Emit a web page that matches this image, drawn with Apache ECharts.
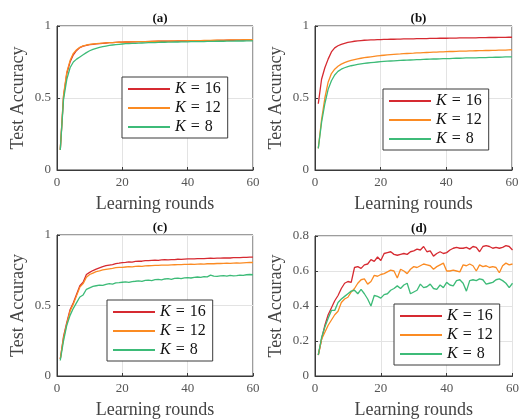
<!DOCTYPE html>
<html>
<head>
<meta charset="utf-8">
<script src="https://cdn.jsdelivr.net/npm/echarts@6/dist/echarts.min.js"></script>
<style>html,body{margin:0;padding:0;background:#fff}#c{width:522px;height:420px}</style>
</head>
<body>
<div id="c"></div>
<script>
const rounds = [1,2,3,4,5,6,7,8,9,10,11,12,13,14,15,16,17,18,19,20,21,22,23,24,25,26,27,28,29,30,31,32,33,34,35,36,37,38,39,40,41,42,43,44,45,46,47,48,49,50,51,52,53,54,55,56,57,58,59,60];
const seriesNames = ['K = 16','K = 12','K = 8'];
const panelTitles = ['(a)','(b)','(c)','(d)'];
const yMaxes = [1,1,1,0.8];
const yIntervals = [0.5,0.5,0.5,0.2];

const aK16 = [0.14,0.51,0.67,0.75,0.80,0.83,0.85,0.86,0.866,0.87,0.873,0.876,0.878,0.88,0.882,0.884,0.885,0.886,0.887,0.888,0.889,0.889,0.89,0.89,0.891,0.891,0.892,0.892,0.893,0.893,0.894,0.894,0.894,0.895,0.895,0.895,0.896,0.896,0.896,0.897,0.897,0.897,0.898,0.898,0.898,0.899,0.899,0.899,0.9,0.9,0.9,0.901,0.901,0.901,0.902,0.902,0.902,0.903,0.903,0.904];
const aK12 = [0.14,0.52,0.68,0.76,0.81,0.835,0.852,0.862,0.868,0.872,0.875,0.877,0.879,0.881,0.883,0.884,0.885,0.886,0.887,0.888,0.889,0.89,0.89,0.891,0.891,0.892,0.892,0.893,0.893,0.894,0.894,0.895,0.895,0.895,0.896,0.896,0.897,0.897,0.897,0.898,0.898,0.899,0.899,0.899,0.9,0.9,0.9,0.901,0.901,0.902,0.902,0.902,0.903,0.903,0.904,0.904,0.905,0.905,0.906,0.906];
const aK8 = [0.14,0.49,0.63,0.71,0.75,0.77,0.785,0.80,0.815,0.828,0.838,0.845,0.851,0.856,0.861,0.865,0.868,0.871,0.873,0.875,0.877,0.878,0.879,0.88,0.881,0.882,0.883,0.884,0.885,0.885,0.886,0.887,0.887,0.888,0.888,0.889,0.889,0.89,0.89,0.89,0.891,0.891,0.892,0.892,0.892,0.893,0.893,0.893,0.894,0.894,0.894,0.895,0.895,0.895,0.896,0.896,0.896,0.897,0.897,0.897];

const bK16 = [0.46,0.63,0.71,0.77,0.82,0.848,0.863,0.873,0.88,0.886,0.89,0.894,0.897,0.899,0.901,0.902,0.903,0.904,0.905,0.906,0.907,0.907,0.908,0.908,0.909,0.909,0.91,0.91,0.911,0.911,0.912,0.912,0.913,0.913,0.914,0.914,0.914,0.915,0.915,0.915,0.916,0.916,0.916,0.917,0.917,0.917,0.918,0.918,0.918,0.919,0.919,0.919,0.92,0.92,0.92,0.921,0.921,0.921,0.922,0.922];
const bK12 = [0.15,0.35,0.50,0.61,0.67,0.70,0.72,0.735,0.745,0.754,0.761,0.767,0.772,0.776,0.78,0.783,0.786,0.789,0.792,0.795,0.797,0.799,0.801,0.803,0.805,0.806,0.808,0.809,0.81,0.811,0.813,0.814,0.815,0.816,0.817,0.818,0.819,0.82,0.821,0.822,0.823,0.823,0.824,0.825,0.825,0.826,0.827,0.827,0.828,0.829,0.829,0.83,0.83,0.831,0.831,0.832,0.833,0.833,0.834,0.835];
const bK8 = [0.15,0.33,0.46,0.56,0.62,0.66,0.685,0.70,0.71,0.718,0.724,0.729,0.733,0.737,0.74,0.743,0.746,0.748,0.75,0.752,0.754,0.756,0.757,0.758,0.76,0.761,0.762,0.763,0.764,0.765,0.766,0.767,0.768,0.769,0.77,0.771,0.771,0.772,0.773,0.774,0.774,0.775,0.776,0.776,0.777,0.778,0.778,0.779,0.779,0.78,0.781,0.781,0.782,0.782,0.783,0.783,0.784,0.785,0.785,0.786];

const cK16 = [0.12,0.28,0.38,0.47,0.52,0.58,0.64,0.665,0.72,0.735,0.748,0.758,0.767,0.775,0.782,0.787,0.79,0.797,0.80,0.804,0.806,0.81,0.808,0.813,0.815,0.814,0.818,0.818,0.82,0.821,0.82,0.823,0.825,0.824,0.826,0.826,0.828,0.827,0.829,0.83,0.831,0.83,0.832,0.833,0.832,0.834,0.835,0.834,0.836,0.836,0.837,0.838,0.837,0.839,0.84,0.839,0.841,0.842,0.843,0.843];
const cK12 = [0.12,0.27,0.37,0.46,0.51,0.57,0.63,0.655,0.70,0.72,0.73,0.74,0.745,0.752,0.756,0.76,0.763,0.768,0.77,0.771,0.773,0.775,0.774,0.777,0.779,0.778,0.781,0.782,0.783,0.784,0.784,0.786,0.787,0.786,0.788,0.789,0.79,0.79,0.791,0.792,0.793,0.792,0.794,0.795,0.794,0.796,0.797,0.796,0.798,0.798,0.799,0.8,0.799,0.801,0.802,0.801,0.803,0.804,0.805,0.805];
const cK8 = [0.11,0.25,0.36,0.43,0.48,0.52,0.56,0.575,0.615,0.625,0.635,0.64,0.645,0.642,0.65,0.655,0.652,0.66,0.662,0.665,0.668,0.664,0.67,0.672,0.675,0.671,0.678,0.68,0.677,0.683,0.685,0.682,0.688,0.69,0.686,0.692,0.694,0.69,0.696,0.698,0.695,0.7,0.702,0.699,0.705,0.703,0.715,0.708,0.706,0.71,0.712,0.708,0.713,0.71,0.712,0.716,0.714,0.718,0.72,0.718];

const dK16 = [0.12,0.21,0.29,0.35,0.39,0.43,0.46,0.50,0.53,0.54,0.535,0.62,0.625,0.615,0.635,0.64,0.665,0.655,0.68,0.66,0.70,0.705,0.71,0.695,0.69,0.695,0.70,0.695,0.71,0.715,0.725,0.72,0.74,0.71,0.715,0.685,0.70,0.71,0.70,0.705,0.72,0.73,0.735,0.73,0.73,0.735,0.725,0.74,0.735,0.71,0.74,0.745,0.74,0.73,0.735,0.73,0.735,0.745,0.74,0.72];
const dK12 = [0.12,0.21,0.25,0.29,0.32,0.35,0.37,0.42,0.44,0.45,0.48,0.50,0.53,0.55,0.555,0.525,0.54,0.575,0.57,0.58,0.585,0.595,0.605,0.60,0.56,0.61,0.60,0.585,0.61,0.625,0.62,0.63,0.64,0.635,0.63,0.61,0.625,0.635,0.645,0.60,0.60,0.605,0.60,0.595,0.635,0.63,0.64,0.63,0.60,0.635,0.625,0.63,0.62,0.625,0.62,0.59,0.63,0.645,0.635,0.64];
const dK8 = [0.12,0.22,0.28,0.33,0.375,0.375,0.42,0.44,0.455,0.47,0.485,0.49,0.47,0.495,0.47,0.44,0.40,0.46,0.455,0.445,0.465,0.47,0.49,0.50,0.515,0.50,0.52,0.53,0.47,0.48,0.49,0.525,0.505,0.51,0.525,0.50,0.495,0.52,0.505,0.535,0.52,0.515,0.545,0.55,0.53,0.485,0.545,0.55,0.545,0.555,0.55,0.525,0.53,0.535,0.55,0.555,0.545,0.53,0.505,0.53];

const panelData = [[aK16,aK12,aK8],[bK16,bK12,bK8],[cK16,cK12,cK8],[dK16,dK12,dK8]];
const colors = ['#d62a31','#fb8b23','#3dbb78'];

const FONT = 'Liberation Serif';
const grids = [
  {left:57, top:26, width:196, height:144},
  {left:315, top:26, width:197, height:144},
  {left:57, top:235, width:196, height:144},
  {left:315, top:236, width:198, height:143}
];
const legendPos = [
  {left:122, top:77},
  {left:383, top:89},
  {left:107, top:300},
  {left:394, top:304}
];

const option = {
  backgroundColor:'#fff',
  animation:false,
  title: grids.map((g,i)=>({
    text: panelTitles[i],
    left: g.left + g.width/2,
    top: g.top - 19,
    textAlign:'center',
    textStyle:{fontFamily:FONT,fontWeight:'bold',fontSize:13,color:'#111'}
  })),
  grid: grids.map(g=>Object.assign({show:true,borderColor:'#3a3a3a',borderWidth:1,backgroundColor:'#fff',containLabel:false},g)),
  xAxis: grids.map((g,i)=>({
    type:'value', gridIndex:i, min:0, max:60, interval:20,
    name:'Learning rounds', nameLocation:'middle', nameGap:25,
    nameTextStyle:{fontFamily:FONT,fontSize:18,color:'#444'},
    axisLine:{lineStyle:{color:'#3a3a3a',width:1}},
    axisTick:{inside:true,length:3,lineStyle:{color:'#3a3a3a'}},
    axisLabel:{fontFamily:FONT,fontSize:13,color:'#555',margin:6},
    splitLine:{show:true,lineStyle:{color:'#e3e3e3',width:1}}
  })),
  yAxis: grids.map((g,i)=>({
    type:'value', gridIndex:i, min:0, max:yMaxes[i], interval:yIntervals[i],
    name:'Test Accuracy', nameLocation:'middle', nameGap:30,
    nameTextStyle:{fontFamily:FONT,fontSize:18,color:'#444'},
    axisLine:{show:true,lineStyle:{color:'#3a3a3a',width:1}},
    axisTick:{show:true,inside:true,length:3,lineStyle:{color:'#3a3a3a'}},
    axisLabel:{fontFamily:FONT,fontSize:13,color:'#555',margin:6},
    splitLine:{show:true,lineStyle:{color:'#e3e3e3',width:1}}
  })),
  legend: legendPos.map(p=>({
    left:p.left, top:p.top, orient:'vertical',
    data: seriesNames,
    selectedMode:false,
    itemWidth:42, itemHeight:16, itemGap:3,
    padding:[4,7,3,5],
    borderColor:'#3a3a3a', borderWidth:1, backgroundColor:'#fff',
    itemStyle:{opacity:0},
    formatter: name => '{i|K}{s|}{n|=}{s|}{n|' + name.split('= ')[1] + '}',
    textStyle:{fontFamily:FONT,fontSize:16,color:'#111',lineHeight:16,
      rich:{i:{fontFamily:FONT,fontStyle:'italic',fontSize:16,lineHeight:16,color:'#111'},
            s:{width:5,lineHeight:16},
            n:{fontFamily:FONT,fontSize:16,lineHeight:16,color:'#111'}}}
  })),
  series: []
};
panelData.forEach((arrs,p)=>{
  arrs.forEach((vals,k)=>{
    option.series.push({
      type:'line', name:seriesNames[k], xAxisIndex:p, yAxisIndex:p,
      symbol:'none', z: 3 + k,
      lineStyle:{color:colors[k],width:1.3},
      itemStyle:{color:colors[k]},
      data: rounds.map((r,j)=>[r,vals[j]])
    });
  });
});
const chart = echarts.init(document.getElementById('c'),null,{renderer:'canvas'});
chart.setOption(option);
</script>
</body>
</html>
